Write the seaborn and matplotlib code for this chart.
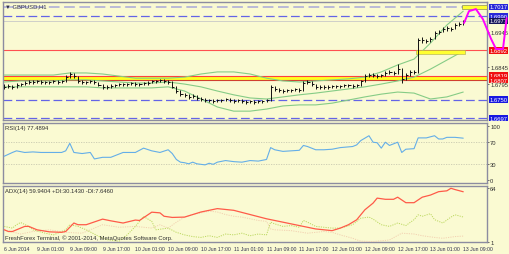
import matplotlib
matplotlib.use("Agg")
import matplotlib.pyplot as plt
import matplotlib.transforms as mtransforms
from matplotlib.patches import Rectangle
import seaborn as sns

# ---------------- data ----------------
symbol_label = "GBPUSD,H1"
close = [1.6787, 1.6789, 1.6787, 1.6792, 1.6795,
         1.6798, 1.6801, 1.6801, 1.6804, 1.6801, 1.6801, 1.6801, 1.6804, 1.6801, 1.6804,
         1.6815, 1.6824, 1.6818,
         1.6804, 1.6801, 1.6801, 1.6804, 1.6801,
         1.6792, 1.6787, 1.6787, 1.6789,
         1.6792, 1.6795, 1.6795, 1.6795, 1.6798, 1.6795, 1.6795, 1.6798, 1.6798,
         1.6804, 1.6804, 1.6807, 1.6804, 1.6801,
         1.6787, 1.6775, 1.6766,
         1.6764, 1.6758, 1.6761, 1.6755, 1.6752,
         1.6749, 1.6749, 1.6746, 1.6749,
         1.6749, 1.6752, 1.6749, 1.6746, 1.6749, 1.6746, 1.6743, 1.6746, 1.6743, 1.6746, 1.6746, 1.6749,
         1.6787,
         1.6781, 1.6778, 1.6775, 1.6778, 1.6778, 1.6781, 1.6778,
         1.6798, 1.6801, 1.6795,
         1.6787, 1.6787, 1.6787, 1.6787, 1.6789, 1.6789, 1.6789, 1.6792, 1.6792, 1.6789, 1.6792,
         1.6804,
         1.6818, 1.6821, 1.6821, 1.6818, 1.6821,
         1.6827, 1.6830, 1.6827, 1.6838,
         1.6810, 1.6821,
         1.6830, 1.6830,
         1.6922,
         1.6922, 1.6919, 1.6925,
         1.6942, 1.6945,
         1.6954, 1.6956, 1.6954,
         1.6965, 1.6968,
         1.6977]
high = [1.6795, 1.6794, 1.6793, 1.6797, 1.6799,
        1.6803, 1.6806, 1.6806, 1.6808, 1.6806, 1.6805, 1.6805, 1.6808, 1.6806, 1.6808,
        1.6822, 1.6830, 1.6827,
        1.6818, 1.6806, 1.6805, 1.6807, 1.6806,
        1.6802, 1.6794, 1.6792, 1.6794,
        1.6796, 1.6799, 1.6799, 1.6799, 1.6802, 1.6800, 1.6799, 1.6802, 1.6803,
        1.6808, 1.6808, 1.6811, 1.6809, 1.6806,
        1.6803, 1.6789, 1.6777,
        1.6770, 1.6766, 1.6765, 1.6763, 1.6757,
        1.6755, 1.6753, 1.6752, 1.6753,
        1.6753, 1.6756, 1.6754, 1.6751, 1.6753, 1.6751, 1.6749, 1.6750, 1.6748, 1.6750, 1.6750, 1.6753,
        1.6792,
        1.6790, 1.6784, 1.6781, 1.6782, 1.6782, 1.6785, 1.6783,
        1.6803, 1.6806, 1.6803,
        1.6795, 1.6791, 1.6791, 1.6791, 1.6793, 1.6793, 1.6793, 1.6796, 1.6796, 1.6794, 1.6796,
        1.6808,
        1.6824, 1.6827, 1.6826, 1.6824, 1.6825,
        1.6834, 1.6836, 1.6833, 1.6852,
        1.6840, 1.6826,
        1.6835, 1.6835,
        1.6928,
        1.6930, 1.6925, 1.6930,
        1.6948, 1.6950,
        1.6960, 1.6962, 1.6960,
        1.6972, 1.6974,
        1.6980]
low = [1.6780, 1.6783, 1.6781, 1.6785, 1.6789,
       1.6792, 1.6795, 1.6796, 1.6797, 1.6796, 1.6795, 1.6796, 1.6797, 1.6795, 1.6798,
       1.6800, 1.6812, 1.6812,
       1.6799, 1.6796, 1.6795, 1.6797, 1.6795,
       1.6788, 1.6781, 1.6782, 1.6783,
       1.6786, 1.6789, 1.6790, 1.6789, 1.6793, 1.6790, 1.6790, 1.6793, 1.6793,
       1.6797, 1.6799, 1.6801, 1.6799, 1.6795,
       1.6783, 1.6770, 1.6760,
       1.6757, 1.6752, 1.6755, 1.6749, 1.6746,
       1.6742, 1.6743, 1.6740, 1.6743,
       1.6744, 1.6746, 1.6743, 1.6740, 1.6743, 1.6740, 1.6737, 1.6740, 1.6737, 1.6740, 1.6740, 1.6742,
       1.6745,
       1.6776, 1.6772, 1.6769, 1.6772, 1.6773, 1.6775, 1.6772,
       1.6776, 1.6795, 1.6790,
       1.6782, 1.6782, 1.6781, 1.6782, 1.6784, 1.6784, 1.6784, 1.6787, 1.6787, 1.6784, 1.6787,
       1.6789,
       1.6802, 1.6815, 1.6815, 1.6812, 1.6815,
       1.6818, 1.6824, 1.6821, 1.6825,
       1.6799, 1.6808,
       1.6818, 1.6824,
       1.6827,
       1.6914, 1.6912, 1.6915,
       1.6924, 1.6938,
       1.6944, 1.6949, 1.6948,
       1.6953, 1.6961,
       1.6965]

bb_idx = [0, 4, 8, 12, 16, 20, 24, 28, 32, 36, 40, 44, 48, 52, 56, 60, 64, 68, 72, 76,
          80, 84, 88, 92, 96, 100, 104, 108, 112]
bb_upper = [1.6821, 1.6821, 1.6821, 1.6821, 1.6827, 1.6827, 1.6824, 1.6818, 1.6812, 1.6812,
            1.6812, 1.6815, 1.6824, 1.6830, 1.6830, 1.6824, 1.6812, 1.6804, 1.6801, 1.6804,
            1.6807, 1.6810, 1.6815, 1.6830, 1.6850, 1.6867, 1.6913, 1.6965, 1.7005]
bb_mid = [1.6801, 1.6804, 1.6804, 1.6804, 1.6807, 1.6807, 1.6804, 1.6801, 1.6798, 1.6798,
          1.6801, 1.6795, 1.6787, 1.6775, 1.6764, 1.6755, 1.6752, 1.6758, 1.6764, 1.6769,
          1.6775, 1.6781, 1.6787, 1.6795, 1.6804, 1.6815, 1.6838, 1.6864, 1.6890]
bb_lower = [1.6787, 1.6787, 1.6787, 1.6787, 1.6787, 1.6787, 1.6784, 1.6784, 1.6784, 1.6784,
            1.6787, 1.6775, 1.6752, 1.6729, 1.6717, 1.6717, 1.6723, 1.6732, 1.6735, 1.6735,
            1.6740, 1.6749, 1.6758, 1.6766, 1.6772, 1.6769, 1.6752, 1.6758, 1.6772]

proj_idx = [112.2, 113.4, 115.1, 116.8, 118.8, 120.0, 121.7, 122.6]
proj_price = [1.6971, 1.7005, 1.7011, 1.6982, 1.6925, 1.6896, 1.6896, 1.6985]

level_blue_light = 1.7017
level_blue = [1.6990, 1.6750, 1.6697]
level_red_top = 1.6892
zone_red = [1.6819, 1.6807]
bid_price = 1.6977
price_ticks = [1.6945, 1.6845, 1.6795]

rsi_idx = [0, 2, 3, 5, 7, 9, 14, 15, 16, 17, 19, 21, 22, 24, 26, 29, 32, 34, 36, 38,
           40, 41, 42, 43, 44, 45, 46, 47, 48, 49, 50, 51, 52, 54, 56, 58, 60, 62, 64, 65,
           66, 68, 70, 72, 73, 74, 76, 78, 80, 82, 85, 86, 87, 89, 90, 91, 92, 93, 94, 96,
           97, 98, 100, 101, 103, 105, 106, 107, 108, 110, 112]
rsi_val = [44, 51, 54, 51, 52, 51, 51, 54, 68, 51, 49, 51, 39, 42, 42, 51, 51, 59, 54, 51,
           56, 49, 38, 33, 32, 30, 33, 30, 29, 28, 31, 29, 33, 36, 34, 33, 36, 35, 38, 60,
           56, 53, 54, 55, 64, 62, 56, 56, 57, 60, 62, 65, 73, 82, 70, 69, 59, 70, 64, 70,
           51, 57, 58, 78, 78, 82, 76, 76, 79, 79, 77.5]
rsi_levels = [70, 30]
rsi_ticks = [100, 70, 30, 0]

adx_idx = [0, 1, 2, 5, 6, 8, 11, 14, 15, 17, 18, 20, 24, 26, 29, 32, 33, 36, 38, 39,
           41, 44, 48, 52, 56, 60, 64, 68, 72, 76, 80, 82, 84, 86, 88, 90, 91, 93, 95, 96,
           98, 100, 102, 104, 106, 108, 109, 110, 112]
adx_val = [15, 13, 13, 19, 19, 15, 12.6, 12, 13, 23, 21, 21, 27.6, 25.6, 23, 26.5, 26, 35.8, 35, 31,
           29.6, 30, 36, 40, 38, 33, 28, 24, 20, 16, 14, 17, 21, 26.8, 38.6, 46.5, 52.4, 51, 51, 53.5,
           47, 47, 53.5, 56, 60, 61, 64, 62.5, 59.9]
pdi_idx = [0, 2, 3, 4, 6, 7, 10, 12, 15, 16, 18, 20, 23, 25, 28, 30, 32, 34, 36, 37,
           40, 42, 44, 46, 48, 50, 52, 54, 56, 58, 60, 62, 64, 65, 66, 68, 70, 72, 73, 74,
           76, 78, 80, 82, 85, 87, 89, 90, 92, 94, 96, 98, 100, 101, 102, 104, 105, 107, 109, 110, 112]
pdi_val = [19, 17, 21, 23.6, 19, 15, 11, 9, 15, 21, 19, 15, 7.4, 3.4, 1.5, 9, 19, 30.7, 25, 15,
           17, 12, 9, 7, 6, 8, 6, 10, 9, 11, 8, 10, 9, 24, 22, 19, 20, 18, 26, 24,
           19, 18, 17, 17, 21, 28.7, 30, 27.6, 21, 19, 23, 20, 27, 32.7, 31, 34, 27, 23, 30, 32.7, 30.1]
mdi_idx = [0, 4, 7, 11, 15, 19, 24, 28, 32, 36, 38, 40, 42, 44, 46, 48, 50, 52, 54, 56,
           58, 60, 62, 64, 65, 66, 70, 74, 78, 80, 82, 85, 87, 90, 94, 97, 100, 102, 105, 107,
           110, 112]
mdi_val = [15, 10, 13, 15, 12, 11, 21, 18, 19, 17, 21, 17, 24, 30, 33, 35, 37, 36, 33, 31,
           30, 28, 26, 25, 16, 15, 14, 11, 13, 12, 9, 5, 1.5, 1, 3, 11, 10, 8, 6, 5,
           7, 7.6]
adx_ticks = [64, 1]

time_idx = [0, 8, 16, 24, 32, 40, 48, 56, 64, 72, 80, 88, 96, 104, 112]
time_labels = ['6 Jun 2014', '9 Jun 01:00', '9 Jun 09:00', '9 Jun 17:00', '10 Jun 01:00',
               '10 Jun 09:00', '10 Jun 17:00', '11 Jun 01:00', '11 Jun 09:00', '11 Jun 17:00',
               '12 Jun 01:00', '12 Jun 09:00', '12 Jun 17:00', '13 Jun 01:00', '13 Jun 09:00']

rsi_title = "RSI(14) 77.4894"
adx_title = "ADX(14) 59.9404 +DI:30.1430 -DI:7.6460"
copyright_txt = "FreshForex Terminal, \u00a9 2001-2014, MetaQuotes Software Corp."

# ---------------- style ----------------
sns.set_theme(style="white")
plt.rcParams['font.family'] = ['Liberation Sans', 'DejaVu Sans']
BG = '#FAFAD2'
SPINE = '#8C8CA0'
FS = 4.2
FS_T = 3.7
W, H = 510, 255

fig = plt.figure(figsize=(5.1, 2.55), dpi=100, facecolor=BG)


def ax_at(l, t, r, b):
    a = fig.add_axes([l / W, 1 - b / H, (r - l) / W, (b - t) / H])
    a.set_facecolor(BG)
    for s in a.spines.values():
        s.set_color(SPINE)
        s.set_linewidth(1.0)
    a.set_xlim(-0.3, 117.8)
    a.yaxis.tick_right()
    a.tick_params(axis='y', which='both', length=1.5, width=0.5, pad=0.8,
                  labelsize=FS, colors='#303030', direction='out')
    a.tick_params(axis='x', which='both', length=0, labelbottom=False)
    return a


ax_p = ax_at(3, 3, 487, 121)
ax_r = ax_at(3, 124, 487, 184)
ax_a = ax_at(3, 187, 487, 243)

# ---------- price pane ----------
ax_p.set_ylim(1.66915, 1.70314)
idx = list(range(len(close)))
ax_p.vlines(idx, low, high, color='#101010', lw=0.7, zorder=5)
ax_p.hlines(close, [i for i in idx], [i + 0.5 for i in idx], color='#101010', lw=0.7, zorder=5)

for series in (bb_upper, bb_mid, bb_lower):
    sns.lineplot(x=bb_idx, y=series, ax=ax_p, color='#86CC86', lw=0.8, zorder=3)

ax_p.axhline(level_blue_light, color='#A8A8D8', lw=1.1, dashes=(7, 3), zorder=2)
for lv in level_blue:
    ax_p.axhline(lv, color='#6464E6', lw=0.9, dashes=(7, 3), zorder=2)
ax_p.axhline(bid_price, color='#C8C8C8', lw=0.6, zorder=2)
ax_p.axhline(level_red_top, color='#FF5050', lw=0.8, zorder=2)
ax_p.axhspan(zone_red[1], zone_red[0], color='#FFFF20', lw=0, zorder=2)
ax_p.axhline(zone_red[0], color='#FF4040', lw=0.8, zorder=2)
ax_p.axhline(zone_red[1], color='#D04030', lw=0.8, zorder=2)
ax_p.add_patch(Rectangle((100.5, level_red_top - 0.0010), 12.0, 0.0010,
                         facecolor='#FFFF30', edgecolor='#A8A850', lw=0.4, zorder=4))
ax_p.add_patch(Rectangle((111.6, level_blue_light - 0.0006), 6.2, 0.0012,
                         facecolor='#FFFF30', edgecolor='#707050', lw=0.4, zorder=4))

sns.lineplot(x=proj_idx, y=proj_price, ax=ax_p, color='#FF00FF', lw=1.4, sort=False,
             zorder=30, clip_on=False)

ax_p.set_yticks(price_ticks)
ax_p.set_yticklabels([f"{v:.4f}" for v in price_ticks])

blend = mtransforms.blended_transform_factory(ax_p.transAxes, ax_p.transData)


def price_box(y, txt, fc):
    ax_p.text(1.005, y, txt, transform=blend, fontsize=FS, color='white', va='center',
              ha='left', zorder=20, clip_on=False,
              bbox=dict(boxstyle='square,pad=0.15', fc=fc, ec='none'))


price_box(level_blue_light, f"{level_blue_light:.4f}", '#2828D8')
price_box(level_blue[0], f"{level_blue[0]:.4f}", '#2828D8')
price_box(bid_price, f"{bid_price:.4f}", '#14145A')
price_box(level_red_top, f"{level_red_top:.4f}", '#F01010')
price_box(zone_red[0] + 0.00004, f"{zone_red[0]:.4f}", '#F01010')
price_box(zone_red[1] - 0.00004, f"{zone_red[1]:.4f}", '#F01010')
price_box(level_blue[1], f"{level_blue[1]:.4f}", '#1818E0')
price_box(level_blue[2], f"{level_blue[2]:.4f}", '#1818E0')

ax_p.text(0.004, 0.985, "\u25bc " + symbol_label, transform=ax_p.transAxes, fontsize=FS,
          color='#303050', va='top', ha='left', zorder=25)
ax_p.set_xlabel('')
ax_p.set_ylabel('')

# ---------- RSI pane ----------
ax_r.set_ylim(-5.6, 105.6)
for lv in rsi_levels:
    ax_r.axhline(lv, color='#C8C8B0', lw=0.6, ls=(0, (1.5, 1.5)), zorder=2)
sns.lineplot(x=rsi_idx, y=rsi_val, ax=ax_r, color='#64AEE8', lw=0.8, zorder=4)
ax_r.set_yticks(rsi_ticks)
ax_r.set_yticklabels([str(v) for v in rsi_ticks])
ax_r.text(0.004, 0.96, rsi_title, transform=ax_r.transAxes, fontsize=FS, color='#303030',
          va='top', ha='left')
ax_r.set_xlabel('')
ax_r.set_ylabel('')

# ---------- ADX pane ----------
ax_a.set_ylim(0.6, 66.7)
sns.lineplot(x=mdi_idx, y=mdi_val, ax=ax_a, color='#F2D0B0', lw=0.7, ls=(0, (1.2, 1.2)), zorder=3)
sns.lineplot(x=pdi_idx, y=pdi_val, ax=ax_a, color='#BCD860', lw=0.7, ls=(0, (1.2, 1.2)), zorder=3)
sns.lineplot(x=adx_idx, y=adx_val, ax=ax_a, color='#FF5A48', lw=0.9, zorder=4)
ax_a.set_yticks(adx_ticks)
ax_a.set_yticklabels([str(v) for v in adx_ticks])
ax_a.text(0.004, 0.96, adx_title, transform=ax_a.transAxes, fontsize=FS, color='#303030',
          va='top', ha='left')
ax_a.text(0.004, 0.03, copyright_txt, transform=ax_a.transAxes, fontsize=FS, color='#303030',
          va='bottom', ha='left')
ax_a.set_xticks(time_idx)
ax_a.set_xticklabels(time_labels)
ax_a.tick_params(axis='x', length=2, width=0.6, colors='#303050', labelbottom=True,
                 labelsize=FS_T, pad=1.0, direction='out')
for lab in ax_a.get_xticklabels():
    lab.set_horizontalalignment('left')
ax_a.set_xlabel('')
ax_a.set_ylabel('')

fig.savefig("out.png", dpi=100, facecolor=BG)
